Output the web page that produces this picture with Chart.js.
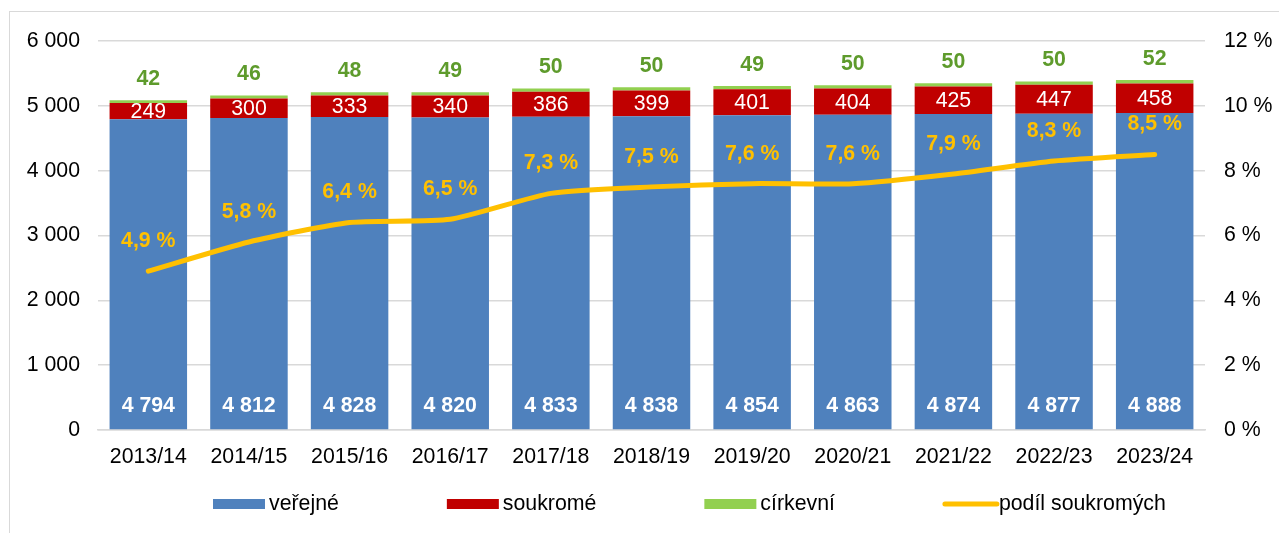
<!DOCTYPE html>
<html>
<head>
<meta charset="utf-8">
<script src="https://cdn.jsdelivr.net/npm/chart.js@4.4.1/dist/chart.umd.min.js"></script>
<style>
  html, body { margin: 0; padding: 0; background: #ffffff; overflow: hidden; }
  #frame { position: absolute; left: 9px; top: 11px; width: 1400px; height: 700px; border: 1.5px solid #d9d9d9; box-sizing: border-box; }
  #wrap { position: absolute; left: 0; top: 0; width: 1279px; height: 533px; }
</style>
</head>
<body>
<div id="frame"></div>
<div id="wrap"><canvas id="c" width="1279" height="533"></canvas></div>
<script>
const categories = ['2013/14','2014/15','2015/16','2016/17','2017/18','2018/19','2019/20','2020/21','2021/22','2022/23','2023/24'];
const verejne   = [4794, 4812, 4828, 4820, 4833, 4838, 4854, 4863, 4874, 4877, 4888];
const soukrome  = [249, 300, 333, 340, 386, 399, 401, 404, 425, 447, 458];
const cirkevni  = [42, 46, 48, 49, 50, 50, 49, 50, 50, 50, 52];
const podil     = [4.9, 5.8, 6.4, 6.5, 7.3, 7.5, 7.6, 7.6, 7.9, 8.3, 8.5];
const leftTicks  = [0, 1000, 2000, 3000, 4000, 5000, 6000];
const rightTicks = [0, 2, 4, 6, 8, 10, 12];

const FONT = '"Liberation Sans", Arial, sans-serif';
const FS = 21.3;
const BLUE = '#4F81BD', RED = '#C00000', GREEN = '#92D050', YELLOW = '#FFC000', GREEN_TXT = '#5E9B2C';

function fmtThousands(v) {
  return String(Math.round(v)).replace(/\B(?=(\d{3})+(?!\d))/g, ' ');
}
function fmtPct(v) {
  return v.toFixed(1).replace('.', ',') + ' %';
}

const labelPlugin = {
  id: 'labels',
  afterDatasetsDraw(chart) {
    const ctx = chart.ctx;
    ctx.save();
    ctx.textAlign = 'center';
    ctx.textBaseline = 'middle';
    const m0 = chart.getDatasetMeta(0);
    ctx.font = 'bold ' + FS + 'px ' + FONT;
    ctx.fillStyle = '#ffffff';
    m0.data.forEach((el, i) => {
      ctx.fillText(fmtThousands(verejne[i]), el.x, el.base - 23);
    });
    const m1 = chart.getDatasetMeta(1);
    ctx.font = FS + 'px ' + FONT;
    ctx.fillStyle = '#ffffff';
    m1.data.forEach((el, i) => {
      ctx.fillText(String(soukrome[i]), el.x, (el.y + el.base) / 2 + 1);
    });
    const m2 = chart.getDatasetMeta(2);
    ctx.font = 'bold ' + FS + 'px ' + FONT;
    ctx.fillStyle = GREEN_TXT;
    m2.data.forEach((el, i) => {
      ctx.fillText(String(cirkevni[i]), el.x, el.y - 21);
    });
    const m3 = chart.getDatasetMeta(3);
    ctx.font = 'bold ' + FS + 'px ' + FONT;
    ctx.fillStyle = YELLOW;
    m3.data.forEach((el, i) => {
      ctx.fillText(fmtPct(podil[i]), el.x, el.y - 30);
    });
    ctx.restore();
  }
};

const legendPlugin = {
  id: 'customLegend',
  afterDraw(chart) {
    const ctx = chart.ctx;
    ctx.save();
    ctx.font = FS + 'px ' + FONT;
    ctx.textBaseline = 'middle';
    ctx.textAlign = 'left';
    const y = 504;
    const gap = 108;
    let x = 213;
    chart.data.datasets.forEach((ds) => {
      if (ds.type === 'line') {
        ctx.strokeStyle = ds.borderColor;
        ctx.lineWidth = 5;
        ctx.lineCap = 'round';
        ctx.beginPath();
        ctx.moveTo(x + 2, y);
        ctx.lineTo(x + 54, y);
        ctx.stroke();
      } else {
        ctx.fillStyle = ds.backgroundColor;
        ctx.fillRect(x, y - 5, 52, 10);
      }
      ctx.fillStyle = '#000000';
      ctx.fillText(ds.label, x + 56, y);
      x += 56 + ctx.measureText(ds.label).width + gap;
    });
    ctx.restore();
  }
};

new Chart(document.getElementById('c'), {
  data: {
    labels: categories,
    datasets: [
      { type: 'bar', label: 'veřejné', data: verejne, backgroundColor: BLUE, stack: 's', order: 1, yAxisID: 'y' },
      { type: 'bar', label: 'soukromé', data: soukrome, backgroundColor: RED, stack: 's', order: 1, yAxisID: 'y' },
      { type: 'bar', label: 'církevní', data: cirkevni, backgroundColor: GREEN, stack: 's', order: 1, yAxisID: 'y' },
      { type: 'line', label: 'podíl soukromých', data: podil, borderColor: YELLOW, backgroundColor: YELLOW,
        borderWidth: 5, pointRadius: 0, tension: 0.2, borderCapStyle: 'round', order: 0, yAxisID: 'y1' }
    ]
  },
  options: {
    responsive: false,
    animation: false,
    devicePixelRatio: 1,
    layout: { padding: { top: 41, left: 0, right: 0, bottom: 0 } },
    datasets: { bar: { barPercentage: 0.77, categoryPercentage: 1.0 } },
    plugins: { legend: { display: false }, tooltip: { enabled: false } },
    scales: {
      x: {
        stacked: true,
        grid: { display: false, drawTicks: false },
        border: { display: true, color: '#d9d9d9', width: 1.5 },
        ticks: { color: '#000000', font: { family: FONT, size: FS }, padding: 14, maxRotation: 0 },
        afterFit(s) { s.height = 103; }
      },
      y: {
        stacked: true, min: 0, max: 6000,
        afterBuildTicks(s) { s.ticks = leftTicks.map(v => ({ value: v })); },
        grid: { color: '#d9d9d9', lineWidth: 1.5, drawTicks: false },
        border: { display: false },
        ticks: { color: '#000000', font: { family: FONT, size: FS }, padding: 18, callback: v => fmtThousands(v) },
        afterFit(s) { s.width = 98; }
      },
      y1: {
        position: 'right', min: 0, max: 12,
        afterBuildTicks(s) { s.ticks = rightTicks.map(v => ({ value: v })); },
        grid: { display: false, drawTicks: false },
        border: { display: false },
        ticks: { color: '#000000', font: { family: FONT, size: FS }, padding: 19, callback: v => v + ' %' },
        afterFit(s) { s.width = 74; }
      }
    }
  },
  plugins: [labelPlugin, legendPlugin]
});
</script>
</body>
</html>
